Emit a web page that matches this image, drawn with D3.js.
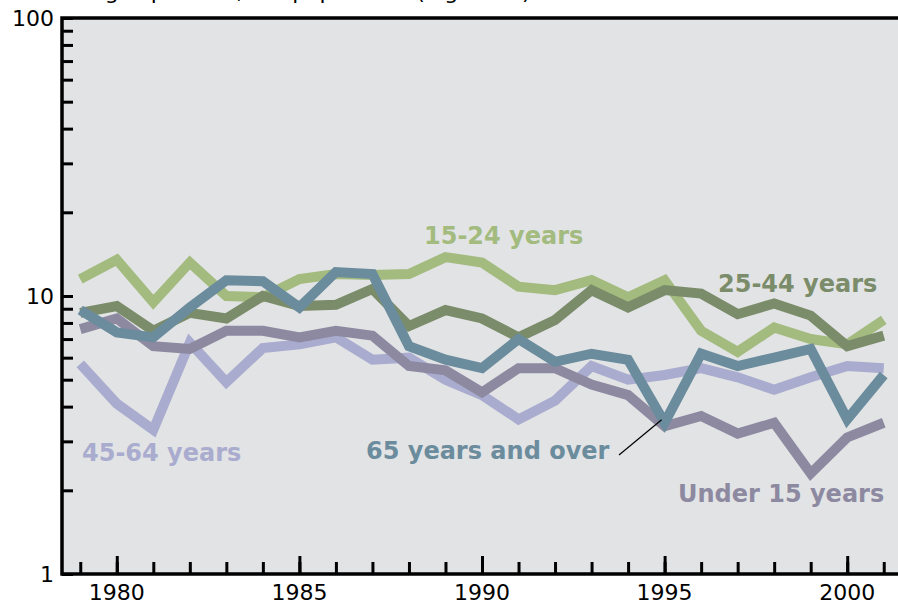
<!DOCTYPE html>
<html>
<head>
<meta charset="utf-8">
<script src="https://cdn.jsdelivr.net/npm/d3@7"></script>
<style>
  body { margin: 0; background: #fff; }
  svg { display: block; font-family: "DejaVu Sans", Verdana, sans-serif; }
</style>
</head>
<body>
<svg width="898" height="604"></svg>
<script>
// data (rate, log scale)
var years = [1979, 1980, 1981, 1982, 1983, 1984, 1985, 1986, 1987, 1988, 1989, 1990,
  1991, 1992, 1993, 1994, 1995, 1996, 1997, 1998, 1999, 2000, 2001];
var under15 = [7.6, 8.3, 6.6, 6.45, 7.5, 7.5, 7.1, 7.5, 7.2, 5.6, 5.4, 4.5,
  5.5, 5.5, 4.8, 4.4, 3.4, 3.7, 3.2, 3.5, 2.3, 3.1, 3.5];
var age15to24 = [11.5, 13.5, 9.5, 13.2, 10.0, 9.9, 11.5, 12.0, 11.9, 12.0, 13.8, 13.2,
  10.8, 10.5, 11.4, 9.9, 11.4, 7.5, 6.3, 7.7, 7.0, 6.7, 8.2];
var age25to44 = [8.7, 9.2, 7.5, 8.7, 8.3, 10.0, 9.2, 9.3, 10.6, 7.8, 8.9, 8.3,
  7.1, 8.2, 10.5, 9.1, 10.5, 10.2, 8.6, 9.4, 8.5, 6.6, 7.2];
var age45to64 = [5.7, 4.1, 3.3, 6.8, 4.9, 6.5, 6.7, 7.1, 5.9, 6.0, 5.0, 4.4,
  3.6, 4.2, 5.6, 5.0, 5.2, 5.5, 5.1, 4.6, 5.1, 5.6, 5.5];
var age65plus = [8.9, 7.4, 7.1, 9.1, 11.4, 11.3, 9.1, 12.2, 12.0, 6.6, 5.9, 5.5,
  7.0, 5.8, 6.2, 5.9, 3.5, 6.2, 5.6, 6.0, 6.45, 3.6, 5.2];

var yTickValues = [1, 10, 100];
var xTickLabels = [1980, 1985, 1990, 1995, 2000];

// drawing order, bottom to top
var series = [
  { name: "45-64 years", values: age45to64, color: "#a9acce" },
  { name: "Under 15 years", values: under15, color: "#8d89a1" },
  { name: "15-24 years", values: age15to24, color: "#a3bb7e" },
  { name: "25-44 years", values: age25to44, color: "#7b8c6a" },
  { name: "65 years and over", values: age65plus, color: "#6b8c9d" }
];

var svg = d3.select("svg");

// plot box (right edge runs past the picture)
var box = { left: 62, top: 18, bottom: 574, right: 902 };

var x = d3.scaleLinear().domain([1978.5, 2001.5]).range([box.left, box.right]);
var y = d3.scaleLog().domain([1, 100]).range([box.bottom, box.top]);

// title, mostly cut off at the top edge
svg.append("text")
  .attr("x", 22)
  .attr("y", -1)
  .style("font-size", "22px")
  .text("Discharges per 100,000 population (log scale)");

// background
svg.append("rect")
  .attr("x", box.left)
  .attr("y", box.top)
  .attr("width", box.right - box.left)
  .attr("height", box.bottom - box.top)
  .attr("fill", "#e2e3e5");

// lines
var line = d3.line()
  .x(function(d, i) { return x(years[i]); })
  .y(function(d) { return y(d); });

svg.append("g")
  .selectAll("path")
  .data(series)
  .join("path")
  .attr("d", function(s) { return line(s.values); })
  .attr("fill", "none")
  .attr("stroke", function(s) { return s.color; })
  .attr("stroke-width", 10);

// y axis: ticks inside the plot
var yMinor = [];
[1, 10].forEach(function(base) {
  for (var k = 2; k <= 9; k++) yMinor.push(base * k);
});

var yAxis = d3.axisRight(y)
  .tickValues(yTickValues.concat(yMinor))
  .tickSize(11)
  .tickFormat("");

svg.append("g")
  .attr("class", "axis axisy")
  .attr("transform", "translate(" + box.left + ",0)")
  .call(yAxis)
  .call(function(g) {
    g.select(".domain").remove();
    g.selectAll(".tick line").attr("stroke", "#000").attr("stroke-width", 3);
  });

svg.append("g")
  .selectAll("text")
  .data(yTickValues)
  .join("text")
  .attr("x", 54)
  .attr("y", function(d) { return y(d); })
  .attr("dy", "0.36em")
  .attr("text-anchor", "end")
  .style("font-size", "22px")
  .text(function(d) { return d; });

// x axis: minor ticks each year, longer every 5 years
var xAxisMinor = d3.axisTop(x).tickValues(years).tickSize(12).tickFormat("");
var xAxisMajor = d3.axisTop(x).tickValues(xTickLabels).tickSize(18).tickFormat("");

[xAxisMinor, xAxisMajor].forEach(function(ax) {
  svg.append("g")
    .attr("class", "axis axisx")
    .attr("transform", "translate(0," + box.bottom + ")")
    .call(ax)
    .call(function(g) {
      g.select(".domain").remove();
      g.selectAll(".tick line").attr("stroke", "#000").attr("stroke-width", 3);
    });
});

svg.append("g")
  .selectAll("text")
  .data(xTickLabels)
  .join("text")
  .attr("x", function(d) { return x(d); })
  .attr("y", 600)
  .attr("text-anchor", "middle")
  .style("font-size", "22px")
  .text(function(d) { return d; });

// frame: top, left, bottom
svg.append("path")
  .attr("d", "M" + box.right + "," + box.top + "H" + box.left + "V" + box.bottom + "H" + box.right)
  .attr("fill", "none")
  .attr("stroke", "#000")
  .attr("stroke-width", 3.5);

// series labels
var labels = [
  { text: "15-24 years", x: 424, y: 244, color: "#a3bb7e" },
  { text: "25-44 years", x: 718, y: 292, color: "#7b8c6a" },
  { text: "45-64 years", x: 82, y: 461, color: "#a9acce" },
  { text: "65 years and over", x: 366, y: 459, color: "#6b8c9d" },
  { text: "Under 15 years", x: 678, y: 502, color: "#8d89a1" }
];

svg.append("g")
  .selectAll("text")
  .data(labels)
  .join("text")
  .attr("x", function(d) { return d.x; })
  .attr("y", function(d) { return d.y; })
  .attr("fill", function(d) { return d.color; })
  .style("font-size", "24px")
  .style("font-weight", "bold")
  .text(function(d) { return d.text; });

// leader line from "65 years and over" to the 1995 dip
svg.append("line")
  .attr("x1", 619)
  .attr("y1", 455)
  .attr("x2", x(1995) - 3)
  .attr("y2", y(age65plus[16]) - 3)
  .attr("stroke", "#000")
  .attr("stroke-width", 1.2);
</script>
</body>
</html>
